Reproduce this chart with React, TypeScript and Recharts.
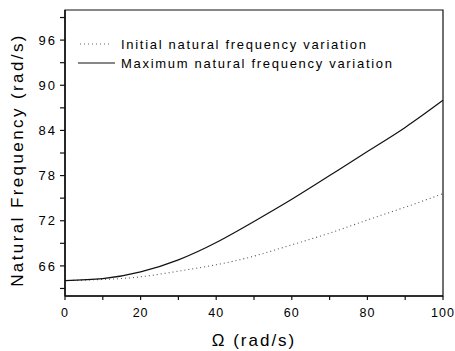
import { LineChart, Line, XAxis, YAxis, ReferenceArea, Legend } from 'recharts';

// rotor speed (rad/s)
const omega = [0, 10, 20, 30, 40, 50, 60, 70, 80, 90, 100];
// natural frequency (rad/s)
const initialFreq = [64.05, 64.2, 64.55, 65.3, 66.15, 67.3, 68.8, 70.35, 72.1, 73.8, 75.6];
const maximumFreq = [64.05, 64.3, 65.2, 66.8, 69.1, 71.9, 74.85, 78.0, 81.2, 84.4, 88.0];

const xTicks = [0, 10, 20, 30, 40, 50, 60, 70, 80, 90, 100];
const xLabelTicks = [0, 20, 40, 60, 80, 100];
const yTicks = [63, 66, 69, 72, 75, 78, 81, 84, 87, 90, 93, 96, 99];
const yLabelTicks = [66, 72, 78, 84, 90, 96];

const FONT = "'Liberation Sans', Arial, Helvetica, sans-serif";

const data = omega.map((w, i) => ({
    omega: w,
    initial: initialFreq[i],
    maximum: maximumFreq[i],
}));

const LegendBox = () => (
    <svg width={340} height={42} style={{ display: 'block' }}>
        <line x1={5} x2={37} y1={10} y2={10} stroke="#666" strokeWidth={1.1} strokeDasharray="1 3" />
        <text x={46} y={14.5} fontSize={13} letterSpacing={1.7} fill="#000" fontFamily={FONT}>
            Initial natural frequency variation
        </text>
        <line x1={3} x2={40} y1={29} y2={29} stroke="#111" strokeWidth={1.2} />
        <text x={46} y={33.5} fontSize={13} letterSpacing={1.7} fill="#000" fontFamily={FONT}>
            Maximum natural frequency variation
        </text>
    </svg>
);

export default function App() {
    return (
        <div style={{ position: 'absolute', left: 0, top: 0, width: 455, height: 351, background: '#fff' }}>
            <LineChart
                width={455}
                height={351}
                data={data}
                margin={{ top: 10, right: 12, left: 0, bottom: 0 }}
            >
                <XAxis
                    dataKey="omega"
                    type="number"
                    domain={[0, 100]}
                    ticks={xTicks}
                    interval={0}
                    height={55}
                    tickSize={4}
                    tickMargin={8}
                    tickFormatter={(v) => (xLabelTicks.includes(v) ? String(v) : '')}
                    tick={{ fill: '#000', fontSize: 12.5, fontFamily: FONT, letterSpacing: 1 }}
                    axisLine={{ stroke: '#111', strokeWidth: 1.5 }}
                    tickLine={{ stroke: '#111', strokeWidth: 1.2 }}
                    label={{
                        value: 'Ω (rad/s)',
                        position: 'insideBottom',
                        offset: 5,
                        style: { fill: '#000', fontSize: 17, fontFamily: FONT, letterSpacing: 2 },
                    }}
                />
                <YAxis
                    type="number"
                    domain={[62, 100]}
                    ticks={yTicks}
                    interval={0}
                    width={65}
                    tickSize={5}
                    tickMargin={3}
                    tickFormatter={(v) => (yLabelTicks.includes(v) ? String(v) : '')}
                    tick={{ fill: '#000', fontSize: 13, fontFamily: FONT, letterSpacing: 2 }}
                    axisLine={{ stroke: '#111', strokeWidth: 1.5 }}
                    tickLine={{ stroke: '#111', strokeWidth: 1.2 }}
                    label={{
                        content: () => (
                            <text
                                x={23}
                                y={160}
                                transform="rotate(-90 23 160)"
                                textAnchor="middle"
                                fontSize={17}
                                letterSpacing={2.4}
                                fill="#000"
                                fontFamily={FONT}
                            >
                                Natural Frequency (rad/s)
                            </text>
                        ),
                    }}
                />
                <ReferenceArea x1={0} x2={100} y1={62} y2={100} fill="none" stroke="#111" strokeWidth={1.2} />
                <Legend
                    layout="vertical"
                    align="center"
                    verticalAlign="middle"
                    wrapperStyle={{ left: 75, top: 34, width: 340, height: 42 }}
                    content={() => <LegendBox />}
                />
                <Line
                    type="natural"
                    dataKey="initial"
                    stroke="#555"
                    strokeWidth={1.1}
                    strokeDasharray="1 3"
                    dot={false}
                    isAnimationActive={false}
                />
                <Line
                    type="natural"
                    dataKey="maximum"
                    stroke="#111"
                    strokeWidth={1.2}
                    dot={false}
                    isAnimationActive={false}
                />
            </LineChart>
        </div>
    );
}
